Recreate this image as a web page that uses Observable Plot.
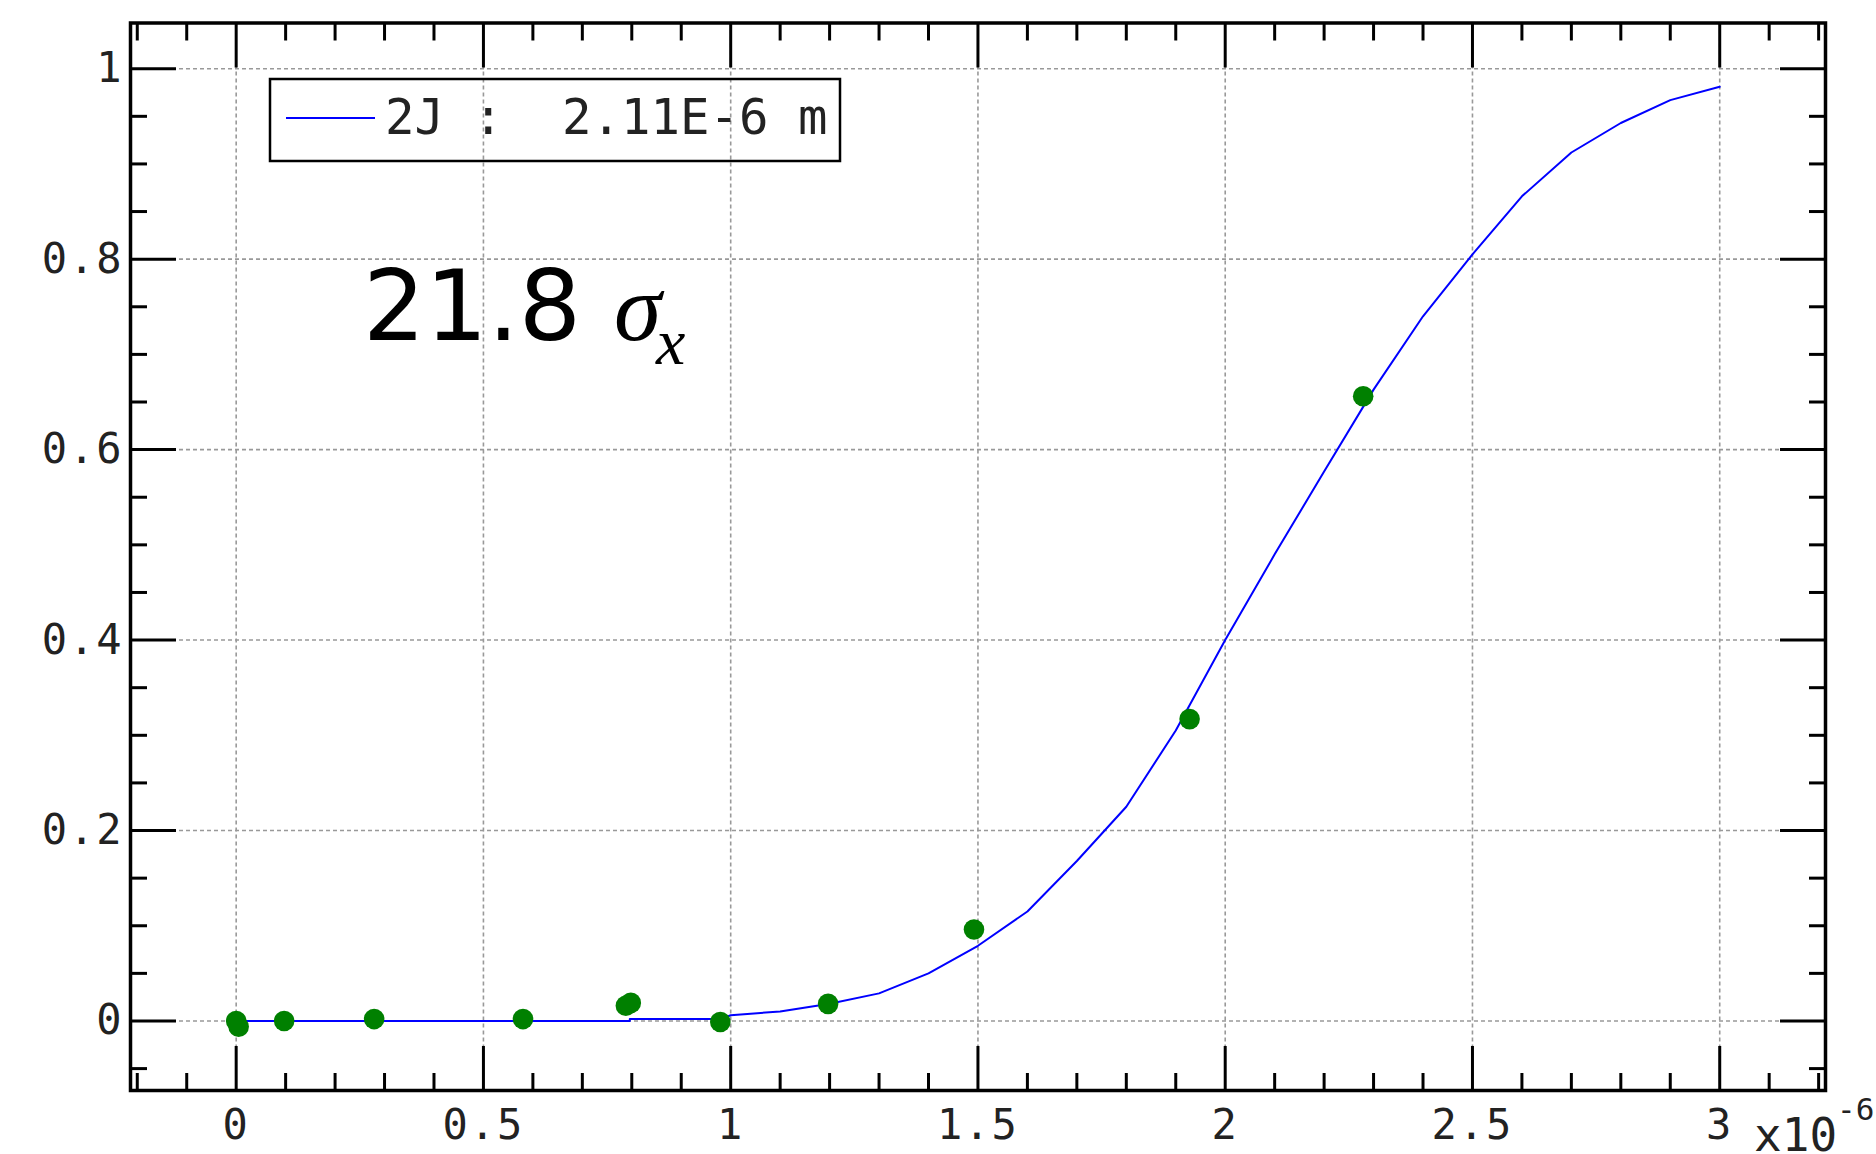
<!DOCTYPE html>
<html>
<head>
<meta charset="utf-8">
<script src="https://cdn.jsdelivr.net/npm/d3@7"></script>
<script src="https://cdn.jsdelivr.net/npm/@observablehq/plot@0.6"></script>
<style>
  html, body { margin: 0; padding: 0; background: #fff; }
  #chart { position: relative; width: 1876px; height: 1154px; overflow: hidden; }
  g[aria-label$="tick label"] text { letter-spacing: 2px; }
</style>
</head>
<body>
<div id="chart"></div>
<script>
// ---- tick positions / labels (x in units of 1e-6 m) ----
const xMajor = [0, 0.5, 1, 1.5, 2, 2.5, 3];
const yMajor = [0, 0.2, 0.4, 0.6, 0.8, 1];
const xMinor = [-0.2, -0.1, 0.1, 0.2, 0.3, 0.4, 0.6, 0.7, 0.8, 0.9, 1.1, 1.2, 1.3, 1.4, 1.6, 1.7, 1.8, 1.9,
                2.1, 2.2, 2.3, 2.4, 2.6, 2.7, 2.8, 2.9, 3.1, 3.2];
const yMinor = [-0.05, 0.05, 0.1, 0.15, 0.25, 0.3, 0.35, 0.45, 0.5, 0.55, 0.65, 0.7, 0.75, 0.85, 0.9, 0.95];

// ---- measured points (green) ----
const measX = [0, 0.005, 0.097, 0.279, 0.580, 0.788, 0.798, 0.979, 1.197, 1.492, 1.928, 2.279];
const measY = [0.0, -0.006, 0.0, 0.002, 0.002, 0.016, 0.019, -0.001, 0.018, 0.096, 0.317, 0.656];

// ---- fitted curve (blue) ----
const fitX = [0, 0.796, 0.796, 0.98, 1.0, 1.1, 1.2, 1.3, 1.4, 1.5, 1.6, 1.7, 1.8, 1.9, 2.0, 2.1, 2.2,
              2.3, 2.4, 2.5, 2.6, 2.7, 2.8, 2.9, 3.0];
const fitY = [0, 0, 0.002, 0.002, 0.006, 0.010, 0.018, 0.029, 0.050, 0.079, 0.115, 0.168, 0.225, 0.305,
              0.400, 0.490, 0.577, 0.663, 0.740, 0.805, 0.866, 0.912, 0.943, 0.967, 0.981];

const legendLabel = "2J :  2.11E-6 m";
const annotationValue = "21.8";

const points = measX.map((x, i) => ({x, y: measY[i]}));
const curve = fitX.map((x, i) => ({x, y: fitY[i]}));

const mono = "DejaVu Sans Mono";
const tickBase = {stroke: "black", strokeWidth: 3, tickFormat: () => "", label: null};

const chart = Plot.plot({
  width: 1876,
  height: 1154,
  marginLeft: 130,
  marginRight: 51,
  marginTop: 22.5,
  marginBottom: 64,
  style: {fontFamily: mono, background: "white", color: "#222"},
  x: {domain: [-0.2137, 3.2139]},
  y: {domain: [-0.073, 1.048]},
  marks: [
    Plot.gridX(xMajor, {stroke: "#999", strokeOpacity: 1, strokeWidth: 1.6, strokeDasharray: "4,3"}),
    Plot.gridY(yMajor, {stroke: "#999", strokeOpacity: 1, strokeWidth: 1.6, strokeDasharray: "4,3"}),
    // inward major ticks on all four sides
    Plot.axisX(xMajor, {...tickBase, anchor: "bottom", tickSize: 44, dy: -44}),
    Plot.axisX(xMajor, {...tickBase, anchor: "top", tickSize: 44, dy: 44}),
    Plot.axisY(yMajor, {...tickBase, anchor: "left", tickSize: 46, dx: 46}),
    Plot.axisY(yMajor, {...tickBase, anchor: "right", tickSize: 46, dx: -46}),
    // inward minor ticks
    Plot.axisX(xMinor, {...tickBase, anchor: "bottom", tickSize: 17, dy: -17}),
    Plot.axisX(xMinor, {...tickBase, anchor: "top", tickSize: 17, dy: 17}),
    Plot.axisY(yMinor, {...tickBase, anchor: "left", tickSize: 17, dx: 17}),
    Plot.axisY(yMinor, {...tickBase, anchor: "right", tickSize: 17, dx: -17}),
    // tick labels
    Plot.axisX(xMajor, {anchor: "bottom", tickSize: 0, tickPadding: 19, label: null,
      tickFormat: d => String(d), fontSize: 42, fontFamily: mono, fill: "#222"}),
    Plot.axisY(yMajor, {anchor: "left", tickSize: 0, tickPadding: 7, label: null,
      tickFormat: d => String(d), fontSize: 42, fontFamily: mono, fill: "#222"}),
    Plot.line(curve, {x: "x", y: "y", stroke: "#0000ff", strokeWidth: 2}),
    Plot.dot(points, {x: "x", y: "y", r: 10.3, fill: "#008000", stroke: "none"}),
    Plot.frame({stroke: "black", strokeWidth: 3.5})
  ]
});

document.getElementById("chart").appendChild(chart);

const svg = d3.select(chart);

// legend box (transparent, grid shows through)
const lg = svg.append("g").attr("aria-label", "legend");
lg.append("rect").attr("x", 270).attr("y", 79).attr("width", 570).attr("height", 82)
  .attr("fill", "none").attr("stroke", "black").attr("stroke-width", 2.5);
lg.append("line").attr("x1", 286).attr("x2", 375).attr("y1", 118).attr("y2", 118)
  .attr("stroke", "#0000ff").attr("stroke-width", 2);
lg.append("text").attr("x", 385).attr("y", 134).attr("text-anchor", "start")
  .attr("xml:space", "preserve").style("white-space", "pre")
  .attr("font-family", mono).attr("font-size", 49).attr("fill", "#222")
  .text(legendLabel);

// annotation 21.8 σx
const an = svg.append("text").attr("x", 363).attr("y", 340).attr("fill", "black")
  .attr("text-anchor", "start");
an.append("tspan").attr("font-family", "DejaVu Sans").attr("font-size", 98).text(annotationValue);
an.append("tspan").attr("x", 614).attr("font-family", "Liberation Serif").attr("font-style", "italic")
  .attr("font-size", 96).text("σ");
an.append("tspan").attr("x", 656).attr("y", 364).attr("font-family", "Liberation Serif")
  .attr("font-style", "italic").attr("font-size", 66).text("x");

// x-axis multiplier
const mult = svg.append("text").attr("x", 1754).attr("y", 1151).attr("fill", "#222")
  .attr("text-anchor", "start").attr("font-family", mono);
mult.append("tspan").attr("font-size", 46).text("x10");
mult.append("tspan").attr("y", 1120).attr("font-size", 31).text("-6");
</script>
</body>
</html>
